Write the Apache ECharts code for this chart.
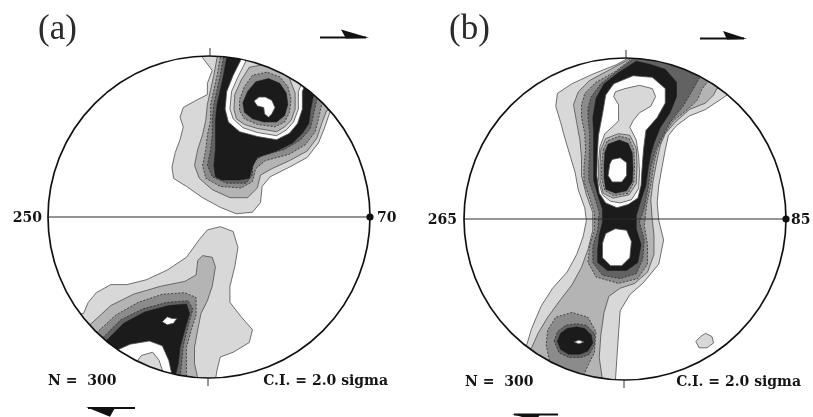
<!DOCTYPE html>
<html>
<head>
<meta charset="utf-8">
<script src="https://cdn.jsdelivr.net/npm/echarts/dist/echarts.min.js"></script>
<style>
  html, body { margin: 0; padding: 0; background: #ffffff; }
  #chart { width: 813px; height: 417px; }
</style>
</head>
<body>
<div id="chart"></div>
<script>
// Equal-area net contours (Kamb style), coordinates on the unit primitive circle.
// Each ring is one filled contour level; levels cycle light grey -> black -> white.

// ---- Net (a): north-east maximum ----
const aNE1 = [[-0.04,0.99],[0.02,0.91],[-0.01,0.83],[-0.01,0.76],[-0.07,0.73],[-0.16,0.68],[-0.18,0.62],[-0.16,0.56],[-0.18,0.48],[-0.21,0.40],[-0.23,0.31],[-0.22,0.24],[-0.14,0.19],[-0.04,0.12],[0.07,0.06],[0.17,0.02],[0.27,0.03],[0.32,0.09],[0.33,0.19],[0.38,0.25],[0.50,0.31],[0.61,0.37],[0.68,0.46],[0.72,0.56],[0.75,0.65],[0.9,0.7],[0.6,1.15],[-0.05,1.15]];
const aNE2 = [[0.05,0.99],[0.03,0.88],[0.01,0.79],[-0.01,0.70],[-0.02,0.60],[-0.04,0.51],[-0.07,0.42],[-0.09,0.32],[-0.06,0.24],[0.02,0.17],[0.13,0.12],[0.24,0.12],[0.30,0.18],[0.32,0.26],[0.39,0.30],[0.50,0.35],[0.61,0.41],[0.67,0.49],[0.70,0.58],[0.73,0.66],[0.9,0.7],[0.6,1.15],[0.05,1.15]];
const aNE3 = [[0.07,0.99],[0.05,0.88],[0.03,0.79],[0.01,0.70],[0.01,0.60],[-0.01,0.51],[-0.02,0.42],[-0.04,0.32],[-0.02,0.24],[0.07,0.19],[0.20,0.18],[0.27,0.22],[0.29,0.30],[0.35,0.35],[0.50,0.39],[0.60,0.45],[0.66,0.53],[0.68,0.61],[0.70,0.70],[0.85,0.75],[0.6,1.15],[0.07,1.15]];
const aNE4 = [[0.09,0.99],[0.07,0.88],[0.05,0.79],[0.03,0.70],[0.02,0.60],[0.02,0.51],[0.01,0.42],[-0.01,0.32],[0.02,0.25],[0.11,0.21],[0.23,0.21],[0.27,0.26],[0.27,0.34],[0.33,0.38],[0.47,0.42],[0.57,0.48],[0.63,0.55],[0.65,0.64],[0.67,0.73],[0.8,0.8],[0.6,1.15],[0.09,1.15]];
const aNE5 = [[0.11,0.99],[0.09,0.88],[0.07,0.79],[0.05,0.70],[0.04,0.60],[0.04,0.51],[0.04,0.42],[0.03,0.32],[0.04,0.25],[0.08,0.23],[0.19,0.23],[0.25,0.24],[0.27,0.31],[0.30,0.37],[0.42,0.41],[0.52,0.46],[0.58,0.52],[0.62,0.58],[0.63,0.66],[0.65,0.76],[0.75,0.85],[0.55,1.15],[0.11,1.15]];
const aNE6 = [[0.20,0.98],[0.15,0.88],[0.11,0.78],[0.10,0.67],[0.12,0.59],[0.19,0.53],[0.30,0.50],[0.42,0.48],[0.50,0.52],[0.55,0.58],[0.58,0.67],[0.58,0.78],[0.60,0.83],[0.7,0.95],[0.22,1.15]];
const aNE7 = [[0.23,0.97],[0.18,0.87],[0.14,0.78],[0.13,0.67],[0.15,0.61],[0.21,0.555],[0.30,0.525],[0.42,0.505],[0.48,0.54],[0.525,0.59],[0.555,0.67],[0.555,0.78],[0.58,0.84],[0.65,0.95],[0.25,1.1]];
const aNE8 = [[0.25,0.93],[0.20,0.85],[0.16,0.76],[0.155,0.67],[0.17,0.61],[0.22,0.575],[0.30,0.55],[0.42,0.53],[0.47,0.56],[0.51,0.60],[0.535,0.67],[0.535,0.77],[0.50,0.86],[0.45,0.91],[0.36,0.95]];
const aNE9 = [[0.27,0.88],[0.22,0.81],[0.19,0.73],[0.19,0.66],[0.22,0.61],[0.30,0.575],[0.41,0.56],[0.47,0.59],[0.50,0.65],[0.51,0.73],[0.49,0.81],[0.44,0.87],[0.36,0.90]];
const aNE10 = [[0.29,0.84],[0.24,0.78],[0.21,0.71],[0.22,0.65],[0.27,0.61],[0.34,0.59],[0.42,0.59],[0.47,0.63],[0.49,0.70],[0.48,0.77],[0.44,0.83],[0.37,0.86]];
const aNE11 = [[0.28,0.72],[0.31,0.745],[0.35,0.745],[0.39,0.725],[0.41,0.68],[0.39,0.64],[0.37,0.62],[0.345,0.64],[0.34,0.68],[0.30,0.69]];

// ---- Net (a): south-west maximum ----
const aSW1 = [[-0.78,-0.60],[-0.75,-0.53],[-0.70,-0.47],[-0.61,-0.42],[-0.51,-0.42],[-0.39,-0.39],[-0.26,-0.33],[-0.14,-0.25],[-0.06,-0.14],[-0.01,-0.08],[0.07,-0.06],[0.15,-0.09],[0.18,-0.19],[0.16,-0.31],[0.13,-0.43],[0.13,-0.53],[0.20,-0.62],[0.27,-0.70],[0.25,-0.78],[0.15,-0.84],[0.07,-0.87],[0.05,-0.95],[0.04,-1.01],[0.04,-1.2],[-0.95,-1.2],[-0.95,-0.6]];
const aSW2 = [[-0.74,-0.67],[-0.61,-0.55],[-0.47,-0.48],[-0.30,-0.43],[-0.15,-0.40],[-0.08,-0.36],[-0.07,-0.27],[-0.04,-0.24],[0.02,-0.25],[0.04,-0.31],[0.02,-0.43],[-0.01,-0.52],[-0.05,-0.60],[-0.07,-0.70],[-0.09,-0.81],[-0.09,-0.91],[-0.07,-1.00],[-0.07,-1.2],[-0.95,-1.2],[-0.95,-0.67]];
const aSW3 = [[-0.70,-0.72],[-0.58,-0.61],[-0.44,-0.53],[-0.29,-0.48],[-0.15,-0.47],[-0.08,-0.50],[-0.08,-0.61],[-0.11,-0.70],[-0.14,-0.81],[-0.14,-0.91],[-0.14,-1.01],[-0.14,-1.2],[-0.95,-1.2],[-0.95,-0.72]];
const aSW4 = [[-0.66,-0.75],[-0.55,-0.64],[-0.41,-0.57],[-0.26,-0.53],[-0.13,-0.52],[-0.10,-0.57],[-0.13,-0.68],[-0.16,-0.80],[-0.17,-0.91],[-0.18,-1.01],[-0.18,-1.2],[-0.95,-1.2],[-0.95,-0.75]];
const aSW5 = [[-0.64,-0.77],[-0.53,-0.66],[-0.40,-0.59],[-0.25,-0.55],[-0.14,-0.54],[-0.12,-0.60],[-0.15,-0.70],[-0.18,-0.81],[-0.19,-0.91],[-0.21,-0.99],[-0.21,-1.2],[-0.9,-1.2],[-0.9,-0.77]];
const aSW6 = [[-0.58,-0.83],[-0.49,-0.79],[-0.37,-0.77],[-0.29,-0.80],[-0.25,-0.89],[-0.23,-0.98],[-0.23,-1.2],[-0.7,-1.2],[-0.7,-0.85]];
const aSW7 = [[-0.45,-0.90],[-0.42,-0.86],[-0.35,-0.84],[-0.31,-0.89],[-0.29,-0.95],[-0.27,-1.00],[-0.27,-1.2],[-0.47,-1.2],[-0.47,-0.9]];
const aSWcore = [[-0.29,-0.65],[-0.26,-0.62],[-0.23,-0.63],[-0.20,-0.63],[-0.22,-0.66],[-0.26,-0.67]];

// ---- Net (b): girdle ----
const b1 = [[0.02,1.0],[-0.05,0.96],[-0.20,0.90],[-0.33,0.84],[-0.42,0.78],[-0.43,0.70],[-0.40,0.60],[-0.37,0.49],[-0.34,0.39],[-0.31,0.29],[-0.29,0.18],[-0.25,0.07],[-0.24,-0.01],[-0.26,-0.11],[-0.30,-0.22],[-0.36,-0.33],[-0.45,-0.43],[-0.52,-0.54],[-0.58,-0.68],[-0.61,-0.78],[-0.8,-0.9],[-0.6,-1.2],[-0.06,-1.2],[-0.06,-1.01],[-0.05,-0.86],[-0.04,-0.71],[-0.03,-0.57],[0.03,-0.47],[0.11,-0.40],[0.21,-0.28],[0.24,-0.13],[0.21,-0.01],[0.20,0.10],[0.21,0.21],[0.23,0.32],[0.25,0.43],[0.27,0.52],[0.32,0.58],[0.40,0.64],[0.50,0.68],[0.59,0.74],[0.65,0.78],[0.85,0.8],[0.5,1.2],[0.02,1.2]];
const b2 = [[0.04,1.0],[-0.09,0.93],[-0.22,0.86],[-0.29,0.79],[-0.32,0.71],[-0.30,0.60],[-0.28,0.49],[-0.27,0.38],[-0.27,0.27],[-0.24,0.15],[-0.20,0.04],[-0.20,-0.07],[-0.23,-0.19],[-0.27,-0.30],[-0.33,-0.41],[-0.40,-0.50],[-0.48,-0.61],[-0.54,-0.71],[-0.58,-0.80],[-0.75,-0.9],[-0.5,-1.2],[-0.14,-1.2],[-0.14,-1.00],[-0.16,-0.86],[-0.15,-0.72],[-0.13,-0.58],[-0.10,-0.48],[-0.03,-0.43],[0.06,-0.40],[0.14,-0.33],[0.18,-0.22],[0.18,-0.10],[0.17,-0.01],[0.16,0.12],[0.175,0.24],[0.20,0.37],[0.22,0.46],[0.25,0.53],[0.31,0.60],[0.40,0.68],[0.50,0.72],[0.55,0.77],[0.57,0.81],[0.75,0.85],[0.5,1.2],[0.04,1.2]];
const b3 = [[0.05,1.0],[-0.07,0.91],[-0.18,0.85],[-0.25,0.78],[-0.27,0.71],[-0.27,0.63],[-0.25,0.53],[-0.245,0.43],[-0.255,0.32],[-0.255,0.23],[-0.22,0.13],[-0.19,0.04],[-0.19,-0.07],[-0.22,-0.17],[-0.23,-0.27],[-0.18,-0.36],[-0.04,-0.40],[0.08,-0.37],[0.14,-0.28],[0.14,-0.16],[0.12,-0.04],[0.135,0.09],[0.16,0.21],[0.18,0.34],[0.20,0.43],[0.24,0.52],[0.30,0.61],[0.40,0.69],[0.45,0.74],[0.48,0.81],[0.52,0.86],[0.7,0.95],[0.4,1.2],[0.05,1.2]];
const b4 = [[0.06,1.0],[-0.06,0.91],[-0.15,0.84],[-0.21,0.76],[-0.23,0.69],[-0.23,0.63],[-0.22,0.53],[-0.22,0.43],[-0.225,0.32],[-0.225,0.24],[-0.19,0.14],[-0.16,0.04],[-0.17,-0.07],[-0.20,-0.17],[-0.20,-0.27],[-0.14,-0.35],[-0.03,-0.37],[0.07,-0.34],[0.11,-0.25],[0.12,-0.13],[0.09,-0.02],[0.12,0.07],[0.145,0.20],[0.16,0.32],[0.19,0.43],[0.22,0.49],[0.28,0.60],[0.36,0.70],[0.42,0.80],[0.47,0.89],[0.6,1.0],[0.4,1.2],[0.06,1.2]];
const b5 = [[0.07,0.98],[-0.04,0.91],[-0.13,0.84],[-0.18,0.75],[-0.20,0.63],[-0.195,0.53],[-0.195,0.43],[-0.195,0.32],[-0.195,0.24],[-0.17,0.15],[-0.14,0.06],[-0.14,-0.02],[-0.16,-0.10],[-0.17,-0.19],[-0.17,-0.27],[-0.11,-0.32],[0.01,-0.32],[0.08,-0.27],[0.10,-0.16],[0.07,-0.06],[0.07,0.02],[0.10,0.12],[0.13,0.21],[0.145,0.32],[0.16,0.40],[0.18,0.47],[0.22,0.57],[0.28,0.66],[0.32,0.76],[0.32,0.85],[0.25,0.93],[0.16,0.96]];
const b6 = [[-0.12,0.77],[-0.07,0.84],[0.05,0.89],[0.17,0.88],[0.25,0.81],[0.25,0.72],[0.20,0.63],[0.13,0.55],[0.115,0.43],[0.105,0.30],[0.10,0.21],[0.08,0.13],[0.02,0.09],[-0.05,0.07],[-0.12,0.10],[-0.16,0.16],[-0.175,0.27],[-0.172,0.40],[-0.165,0.52],[-0.14,0.65]];
const b7 = [[-0.06,0.79],[0.00,0.81],[0.09,0.83],[0.17,0.81],[0.19,0.76],[0.16,0.70],[0.09,0.66],[0.05,0.61],[0.03,0.57],[0.07,0.49],[0.085,0.39],[0.09,0.29],[0.085,0.19],[0.04,0.12],[-0.03,0.10],[-0.09,0.11],[-0.14,0.15],[-0.165,0.24],[-0.165,0.35],[-0.155,0.45],[-0.125,0.53],[-0.07,0.58],[-0.04,0.61],[-0.04,0.71],[-0.07,0.76]];
const b8 = [[-0.15,0.43],[-0.12,0.50],[-0.04,0.53],[0.03,0.52],[0.07,0.44],[0.075,0.335],[0.07,0.22],[0.025,0.15],[-0.075,0.13],[-0.135,0.16],[-0.155,0.24],[-0.155,0.335]];
const b9 = [[-0.135,0.43],[-0.11,0.485],[-0.035,0.515],[0.025,0.50],[0.055,0.43],[0.06,0.33],[0.055,0.23],[0.02,0.16],[-0.07,0.145],[-0.125,0.175],[-0.145,0.25],[-0.145,0.34]];
const b10 = [[-0.125,0.415],[-0.105,0.465],[-0.035,0.49],[0.02,0.47],[0.045,0.41],[0.05,0.315],[0.045,0.23],[0.01,0.175],[-0.06,0.16],[-0.12,0.185],[-0.13,0.255],[-0.13,0.34]];
const b11 = [[-0.08,0.37],[-0.03,0.38],[0.01,0.35],[0.01,0.27],[-0.02,0.23],[-0.08,0.23],[-0.105,0.27],[-0.095,0.34]];
const bHole = [[-0.12,-0.09],[-0.06,-0.06],[0.01,-0.07],[0.04,-0.14],[0.03,-0.24],[-0.02,-0.29],[-0.09,-0.29],[-0.14,-0.24],[-0.14,-0.15]];
const bSW3 = [[-0.47,-0.88],[-0.49,-0.78],[-0.48,-0.69],[-0.43,-0.61],[-0.33,-0.58],[-0.23,-0.61],[-0.18,-0.70],[-0.19,-0.83],[-0.23,-0.91],[-0.26,-0.98],[-0.35,-1.1],[-0.55,-0.95]];
const bSW4 = [[-0.44,-0.76],[-0.42,-0.70],[-0.37,-0.66],[-0.30,-0.65],[-0.24,-0.66],[-0.19,-0.71],[-0.19,-0.78],[-0.22,-0.84],[-0.27,-0.86],[-0.35,-0.86],[-0.41,-0.83]];
const bSW5 = [[-0.42,-0.76],[-0.40,-0.71],[-0.36,-0.68],[-0.30,-0.67],[-0.25,-0.68],[-0.21,-0.72],[-0.20,-0.77],[-0.23,-0.82],[-0.28,-0.84],[-0.35,-0.84],[-0.40,-0.81]];
const bSW6 = [[-0.317,-0.764],[-0.286,-0.752],[-0.255,-0.764],[-0.286,-0.776]];
const bSE1 = [[0.44,-0.76],[0.47,-0.73],[0.50,-0.71],[0.54,-0.73],[0.55,-0.77],[0.51,-0.80],[0.46,-0.80]];

// Contour level of each ring, drawn in this order (lower levels first)
const netA = [
  { level: 1, ring: aNE1 }, { level: 2, ring: aNE2 }, { level: 3, ring: aNE3 },
  { level: 4, ring: aNE4 }, { level: 5, ring: aNE5 }, { level: 6, ring: aNE6 },
  { level: 7, ring: aNE7 }, { level: 8, ring: aNE8 }, { level: 9, ring: aNE9 },
  { level: 11, ring: aNE10 }, { level: 12, ring: aNE11 },
  { level: 1, ring: aSW1 }, { level: 2, ring: aSW2 }, { level: 3, ring: aSW3 },
  { level: 4, ring: aSW4 }, { level: 5, ring: aSW5 }, { level: 6, ring: aSW6 },
  { level: 7, ring: aSW7 }, { level: 6, ring: aSWcore }
];
const netB = [
  { level: 1, ring: b1 }, { level: 2, ring: b2 }, { level: 3, ring: b3 },
  { level: 4, ring: b4 }, { level: 5, ring: b5 }, { level: 6, ring: b6 },
  { level: 7, ring: b7 }, { level: 8, ring: b8 }, { level: 9, ring: b9 },
  { level: 11, ring: b10 }, { level: 12, ring: b11 }, { level: 6, ring: bHole },
  { level: 3, ring: bSW3 }, { level: 4, ring: bSW4 }, { level: 5, ring: bSW5 },
  { level: 6, ring: bSW6 }, { level: 1, ring: bSE1 }
];

// Text
const panelTags = ['(a)', '(b)'];
const azimuthsA = ['250', '70'];
const azimuthsB = ['265', '85'];
const countLabel = 'N =  300';
const intervalLabel = 'C.I. = 2.0 sigma';

// Level fills cycle: light grey, mid grey, dark grey, darker grey, black, white
const FILL = ['#d8d8d8', '#b4b4b4', '#8b8b8b', '#626262', '#1b1b1b', '#ffffff'];

function levelStyle(level) {
  const k = (level - 1) % 6;
  const st = { fill: FILL[k] };
  if (k === 4) {
    st.stroke = '#1b1b1b'; st.lineWidth = 0.5;
  } else if (k === 2 || k === 3) {
    st.stroke = '#2c2c2c'; st.lineWidth = 0.8; st.lineDash = [2, 1.6];
  } else {
    st.stroke = '#4e4e4e'; st.lineWidth = 0.8;
  }
  return st;
}

function contourSeries(g, list) {
  return {
    type: 'custom', coordinateSystem: 'cartesian2d',
    xAxisIndex: g, yAxisIndex: g, clip: true, silent: true, z: 2,
    data: list.map(() => [0, 0]),
    renderItem: (params, api) => {
      const item = list[params.dataIndex];
      return {
        type: 'polygon',
        shape: { points: item.ring.map(p => api.coord(p)) },
        style: levelStyle(item.level)
      };
    }
  };
}

// White ring covering everything outside the primitive circle
function maskSeries(g) {
  return {
    type: 'custom', coordinateSystem: 'cartesian2d',
    xAxisIndex: g, yAxisIndex: g, clip: true, silent: true, z: 3,
    data: [[0, 0]],
    renderItem: (params, api) => {
      const c = api.coord([0, 0]);
      const r = api.coord([1, 0])[0] - c[0];
      return { type: 'ring', shape: { cx: c[0], cy: c[1], r0: r, r: r * 1.5 }, style: { fill: '#ffffff' } };
    }
  };
}

// Primitive circle, E-W diameter, N/S ticks and the lineation point
function frameSeries(g) {
  return {
    type: 'custom', coordinateSystem: 'cartesian2d',
    xAxisIndex: g, yAxisIndex: g, clip: false, silent: true, z: 4,
    data: [[0, 0]],
    renderItem: (params, api) => {
      const c = api.coord([0, 0]);
      const r = api.coord([1, 0])[0] - c[0];
      return {
        type: 'group',
        children: [
          { type: 'line', shape: { x1: c[0] - r, y1: c[1], x2: c[0] + r, y2: c[1] }, style: { stroke: '#2a2a2a', lineWidth: 1 } },
          { type: 'circle', shape: { cx: c[0], cy: c[1], r: r }, style: { fill: 'none', stroke: '#111111', lineWidth: 1.7 } },
          { type: 'line', shape: { x1: c[0] + 1, y1: c[1] - r - 8, x2: c[0] + 1, y2: c[1] - r }, style: { stroke: '#333333', lineWidth: 1 } },
          { type: 'line', shape: { x1: c[0] - 1, y1: c[1] + r, x2: c[0] - 1, y2: c[1] + r + 8 }, style: { stroke: '#333333', lineWidth: 1 } },
          { type: 'circle', shape: { cx: c[0] + r, cy: c[1], r: 3.6 }, style: { fill: '#111111' } }
        ]
      };
    }
  };
}

const LABEL_FONT = 'bold 14px "DejaVu Serif"';
const TAG_FONT = '35px "Liberation Serif"';
function label(text, x, y, align, font, color) {
  return {
    type: 'text', x: x, y: y, silent: true, z: 10,
    style: { text: text, font: font || LABEL_FONT, fill: color || '#151515',
             textAlign: align, align: align, textVerticalAlign: 'middle', verticalAlign: 'middle' }
  };
}
function shearArrow(x1, x2, y, head) {
  return [
    { type: 'line', silent: true, z: 10, shape: { x1: x1, y1: y, x2: x2, y2: y }, style: { stroke: '#111111', lineWidth: 2 } },
    { type: 'polygon', silent: true, z: 10, shape: { points: head }, style: { fill: '#111111' } }
  ];
}

const chart = echarts.init(document.getElementById('chart'), null, { renderer: 'canvas' });
chart.setOption({
  animation: false,
  backgroundColor: '#ffffff',
  grid: [
    { left: 48, top: 56, width: 322, height: 322 },
    { left: 464, top: 58, width: 322, height: 322 }
  ],
  xAxis: [
    { gridIndex: 0, type: 'value', min: -1, max: 1, show: false },
    { gridIndex: 1, type: 'value', min: -1, max: 1, show: false }
  ],
  yAxis: [
    { gridIndex: 0, type: 'value', min: -1, max: 1, show: false },
    { gridIndex: 1, type: 'value', min: -1, max: 1, show: false }
  ],
  series: [
    contourSeries(0, netA), maskSeries(0), frameSeries(0),
    contourSeries(1, netB), maskSeries(1), frameSeries(1)
  ],
  graphic: [
    label(panelTags[0], 38, 30, 'left', TAG_FONT, '#2a2a2a'),
    label(panelTags[1], 449, 30, 'left', TAG_FONT, '#2a2a2a'),
    label(azimuthsA[0], 42, 218, 'right'),
    label(azimuthsA[1], 377, 218, 'left'),
    label(azimuthsB[0], 457, 220, 'right'),
    label(azimuthsB[1], 791, 220, 'left'),
    label(countLabel, 48, 381, 'left'),
    label(intervalLabel, 388, 381, 'right'),
    label(countLabel, 465, 382, 'left'),
    label(intervalLabel, 801, 382, 'right'),
    ...shearArrow(320, 366, 37.5, [[341, 29.5], [369, 37.8], [346, 38.5]]),
    ...shearArrow(88, 135, 408, [[86, 407], [115, 407.7], [110, 416.7]]),
    ...shearArrow(700, 744, 38.5, [[723, 31], [747, 38.8], [727, 39.5]]),
    ...shearArrow(514, 558, 414.5, [[512, 414], [540, 414.5], [536, 421]])
  ]
});
</script>
</body>
</html>
